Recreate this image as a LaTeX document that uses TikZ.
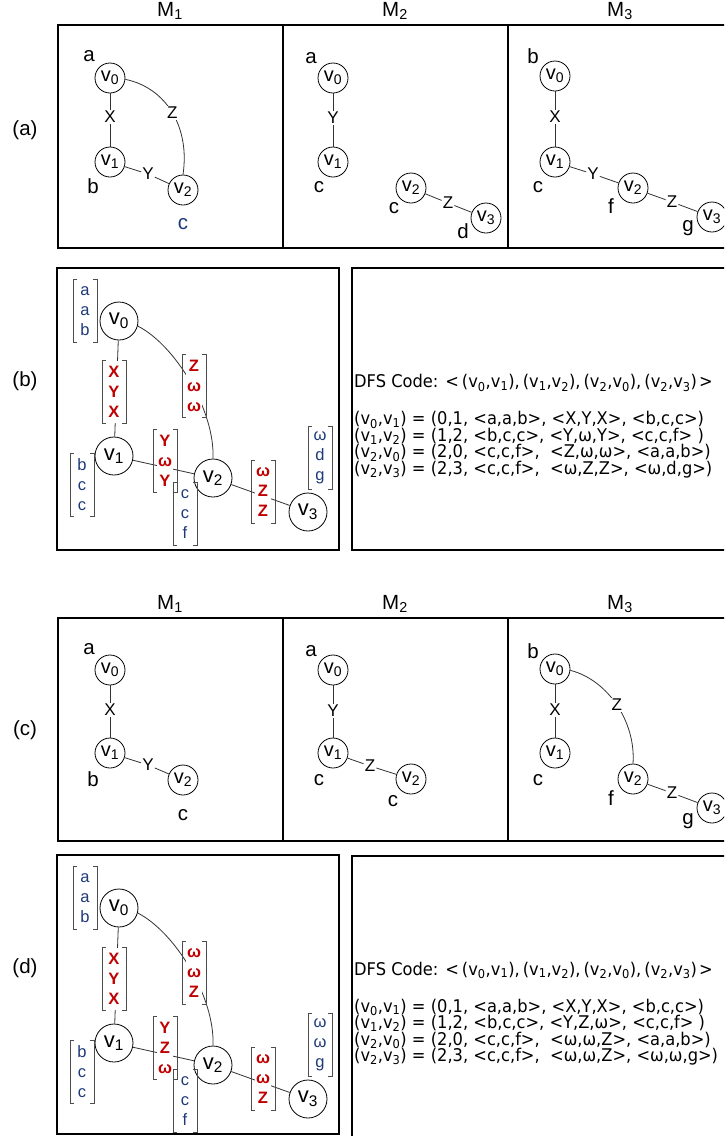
\documentclass[tikz,border=0pt]{standalone}
\usepackage{fontspec}
\setmainfont{Liberation Sans}
\newfontfamily\dfsfont[FakeStretch=0.93]{DejaVu Sans}
\definecolor{lblue}{HTML}{1F3A7A}
\definecolor{lred}{HTML}{C00000}
\definecolor{edgegray}{HTML}{333333}
\tikzset{
  frame/.style={draw=black, line width=1.6pt},
  vsm/.style={circle, draw, line width=0.8pt, minimum size=30pt, inner sep=0pt, font=\fontsize{20}{20}\selectfont},
  vbig/.style={circle, draw, line width=0.8pt, minimum size=38pt, inner sep=0pt, font=\fontsize{22}{22}\selectfont},
  vlab/.style={font=\fontsize{20.5}{20}\selectfont, inner sep=0pt},
  elab/.style={font=\fontsize{17}{17}\selectfont, fill=white, inner sep=1pt},
  edge/.style={draw=edgegray, line width=0.8pt},
  title/.style={font=\fontsize{20.5}{20}\selectfont, inner sep=0pt},
  vbr/.style={fill=white, inner xsep=1pt, inner ysep=0pt, minimum height=62pt, text=lblue, align=center, font=\fontsize{16.5}{20}\selectfont},
  ebr/.style={fill=white, inner xsep=1pt, inner ysep=0pt, minimum height=62pt, text=lred, align=center, font=\fontsize{16.5}{20}\selectfont\bfseries},
  brline/.style={draw=black!70, line width=0.8pt},
  dfs/.style={font=\dfsfont\fontsize{17.5}{18}\selectfont, anchor=west, inner sep=0pt},
}
\newcommand\brk[1]{%
  \draw[brline] ([xshift=-8pt]#1.north) -- ([xshift=-12pt]#1.north) -- ([xshift=-12pt]#1.south) -- ([xshift=-8pt]#1.south);
  \draw[brline] ([xshift=8pt]#1.north) -- ([xshift=12pt]#1.north) -- ([xshift=12pt]#1.south) -- ([xshift=8pt]#1.south);}
\newcommand\codepanel[9]{%
  \node[vbig] (#1v0) at (119,321) {v\textsubscript{0}};
  \node[vbig] (#1v1) at (114,456) {v\textsubscript{1}};
  \node[vbig] (#1v2) at (213,478) {v\textsubscript{2}};
  \node[vbig] (#1v3) at (308,512) {v\textsubscript{3}};
  \draw[edge] (#1v0) -- (#1v1);
  \draw[edge] (#1v1) -- (#1v2);
  \draw[edge] (#1v2) -- (#1v3);
  \draw[edge] (#1v0.-15) .. controls (175,345) and (215,410) .. (#1v2.north);
  \node[vbr] (#1b0) at (85,311) {#2};
  \node[vbr] (#1b1) at (82,485) {#3};
  \node[vbr] (#1b2) at (185,514) {#4};
  \node[vbr] (#1b3) at (320,458) {#5};
  \node[ebr] (#1e01) at (114,392) {#6};
  \node[ebr] (#1e20) at (194,386) {#7};
  \node[ebr] (#1e12) at (165,461) {#8};
  \node[ebr] (#1e23) at (263,492) {#9};
  \brk{#1b0}\brk{#1b1}\brk{#1b2}\brk{#1b3}
  \brk{#1e01}\brk{#1e20}\brk{#1e12}\brk{#1e23}
}
\newcommand\dfsline{DFS Code: <\hspace{3pt}(v\textsubscript{0},v\textsubscript{1}),\hspace{3pt}(v\textsubscript{1},v\textsubscript{2}),\hspace{3pt}(v\textsubscript{2},v\textsubscript{0}),\hspace{3pt}(v\textsubscript{2},v\textsubscript{3})\hspace{2pt}>}
\begin{document}
\begin{tikzpicture}[x=1pt,y=-1pt]
\clip (0,0) rectangle (724,1136);
\fill[white] (0,0) rectangle (724,1136);

% ---------- row labels
\node[title] (la) at (25,130) {(a)};
\node[title] (lb) at (25,381) {(b)};
\node[title] (lc) at (25,730) {(c)};
\node[title] (ld) at (25,968) {(d)};

% ---------- (a) frames and titles
\draw[frame] (58,25) rectangle (745,248);
\draw[frame] (283,25) -- (283,248);
\draw[frame] (508,25) -- (508,248);
\node[title] (ta1) at (170,11) {M\textsubscript{1}};
\node[title] (ta2) at (395,11) {M\textsubscript{2}};
\node[title] (ta3) at (620,11) {M\textsubscript{3}};

% (a) M1
\node[vsm] (a1v0) at (110,78) {v\textsubscript{0}};
\node[vsm] (a1v1) at (110,162) {v\textsubscript{1}};
\node[vsm] (a1v2) at (183,190) {v\textsubscript{2}};
\node[vlab] (a1la) at (89,56) {a};
\node[vlab] (a1lb) at (93,186) {b};
\node[vlab,text=lblue] (a1lc) at (183,224) {c};
\node[elab] (a1x) at (110,117) {X};
\node[elab] (a1y) at (148,174) {Y};
\draw[edge] (a1v0) -- (a1x) -- (a1v1);
\draw[edge] (a1v1) -- (a1y) -- (a1v2);
\draw[edge] (a1v0.-5) .. controls (167,88) and (190,128) .. node[elab,pos=0.5] (a1z) {Z} (a1v2.north);

% (a) M2
\node[vsm] (a2v0) at (333,78) {v\textsubscript{0}};
\node[vsm] (a2v1) at (333,162) {v\textsubscript{1}};
\node[vsm] (a2v2) at (411,188) {v\textsubscript{2}};
\node[vsm] (a2v3) at (486,218) {v\textsubscript{3}};
\node[vlab] (a2la) at (311,58) {a};
\node[vlab] (a2lc) at (319,187) {c};
\node[vlab] (a2lc2) at (394,208) {c};
\node[vlab] (a2ld) at (463,231) {d};
\node[elab] (a2y) at (333,118) {Y};
\node[elab] (a2z) at (448,203) {Z};
\draw[edge] (a2v0) -- (a2y) -- (a2v1);
\draw[edge] (a2v2) -- (a2z) -- (a2v3);

% (a) M3
\node[vsm] (a3v0) at (555,76) {v\textsubscript{0}};
\node[vsm] (a3v1) at (555,162) {v\textsubscript{1}};
\node[vsm] (a3v2) at (633,188) {v\textsubscript{2}};
\node[vsm] (a3v3) at (712,217) {v\textsubscript{3}};
\node[vlab] (a3lb) at (533,56) {b};
\node[vlab] (a3lc) at (538,187) {c};
\node[vlab] (a3lf) at (611,206) {f};
\node[vlab] (a3lg) at (688,228) {g};
\node[elab] (a3x) at (555,117) {X};
\node[elab] (a3y) at (593,174) {Y};
\node[elab] (a3z) at (672,202) {Z};
\draw[edge] (a3v0) -- (a3x) -- (a3v1);
\draw[edge] (a3v1) -- (a3y) -- (a3v2);
\draw[edge] (a3v2) -- (a3z) -- (a3v3);

% ---------- (b)
\draw[frame] (57,268) rectangle (339,550);
\codepanel{b}{a\\a\\b}{b\\c\\c}{c\\c\\f}{ω\\d\\g}{X\\Y\\X}{Z\\ω\\ω}{Y\\ω\\Y}{ω\\Z\\Z}
\draw[frame] (352,268) rectangle (745,550);
\node[dfs] (bdfs) at (354,383) {\dfsline};
\node[dfs] (br1) at (354,420) {(v\textsubscript{0},v\textsubscript{1}) = (0,1, <a,a,b>, <X,Y,X>, <b,c,c>)};
\node[dfs] (br2) at (354,436.5) {(v\textsubscript{1},v\textsubscript{2}) = (1,2, <b,c,c>, <Y,ω,Y>, <c,c,f> )};
\node[dfs] (br3) at (354,453) {(v\textsubscript{2},v\textsubscript{0}) = (2,0, <c,c,f>,\ \ <Z,ω,ω>, <a,a,b>)};
\node[dfs] (br4) at (354,469.5) {(v\textsubscript{2},v\textsubscript{3}) = (2,3, <c,c,f>,\ \ <ω,Z,Z>, <ω,d,g>)};

% ---------- (c) frames and titles
\draw[frame] (58,618) rectangle (745,841);
\draw[frame] (283,618) -- (283,841);
\draw[frame] (508,618) -- (508,841);
\node[title] (tc1) at (170,604) {M\textsubscript{1}};
\node[title] (tc2) at (395,604) {M\textsubscript{2}};
\node[title] (tc3) at (620,604) {M\textsubscript{3}};

% (c) M1
\node[vsm] (c1v0) at (110,670) {v\textsubscript{0}};
\node[vsm] (c1v1) at (110,753) {v\textsubscript{1}};
\node[vsm] (c1v2) at (183,780) {v\textsubscript{2}};
\node[vlab] (c1la) at (89,649) {a};
\node[vlab] (c1lb) at (93,779) {b};
\node[vlab] (c1lc) at (183,815) {c};
\node[elab] (c1x) at (110,710) {X};
\node[elab] (c1y) at (148,765) {Y};
\draw[edge] (c1v0) -- (c1x) -- (c1v1);
\draw[edge] (c1v1) -- (c1y) -- (c1v2);

% (c) M2
\node[vsm] (c2v0) at (333,670) {v\textsubscript{0}};
\node[vsm] (c2v1) at (333,753) {v\textsubscript{1}};
\node[vsm] (c2v2) at (411,779) {v\textsubscript{2}};
\node[vlab] (c2la) at (311,651) {a};
\node[vlab] (c2lc) at (319,780) {c};
\node[vlab] (c2lc2) at (393,801) {c};
\node[elab] (c2y) at (333,711) {Y};
\node[elab] (c2z) at (370,766) {Z};
\draw[edge] (c2v0) -- (c2y) -- (c2v1);
\draw[edge] (c2v1) -- (c2z) -- (c2v2);

% (c) M3
\node[vsm] (c3v0) at (555,669) {v\textsubscript{0}};
\node[vsm] (c3v1) at (555,753) {v\textsubscript{1}};
\node[vsm] (c3v2) at (633,779) {v\textsubscript{2}};
\node[vsm] (c3v3) at (712,808) {v\textsubscript{3}};
\node[vlab] (c3lb) at (533,651) {b};
\node[vlab] (c3lc) at (538,780) {c};
\node[vlab] (c3lf) at (611,798) {f};
\node[vlab] (c3lg) at (688,821) {g};
\node[elab] (c3x) at (555,710) {X};
\node[elab] (c3z2) at (672,793) {Z};
\draw[edge] (c3v0) -- (c3x) -- (c3v1);
\draw[edge] (c3v2) -- (c3z2) -- (c3v3);
\draw[edge] (c3v0.-5) .. controls (608,680) and (636,722) .. node[elab,pos=0.5] (c3z) {Z} (c3v2.north);

% ---------- (d)
\draw[frame] (57,855) rectangle (339,1134);
\begin{scope}[shift={(0,587)}]
\codepanel{d}{a\\a\\b}{b\\c\\c}{c\\c\\f}{ω\\ω\\g}{X\\Y\\X}{ω\\ω\\Z}{Y\\Z\\ω}{ω\\ω\\Z}
\end{scope}
\draw[frame] (352,856) rectangle (745,1150);
\node[dfs] (ddfs) at (354,970) {\dfsline};
\node[dfs] (dr1) at (354,1007) {(v\textsubscript{0},v\textsubscript{1}) = (0,1, <a,a,b>, <X,Y,X>, <b,c,c>)};
\node[dfs] (dr2) at (354,1023.5) {(v\textsubscript{1},v\textsubscript{2}) = (1,2, <b,c,c>, <Y,Z,ω>, <c,c,f> )};
\node[dfs] (dr3) at (354,1040) {(v\textsubscript{2},v\textsubscript{0}) = (2,0, <c,c,f>,\ \ <ω,ω,Z>, <a,a,b>)};
\node[dfs] (dr4) at (354,1056.5) {(v\textsubscript{2},v\textsubscript{3}) = (2,3, <c,c,f>,\ \ <ω,ω,Z>, <ω,ω,g>)};
\end{tikzpicture}
\end{document}
